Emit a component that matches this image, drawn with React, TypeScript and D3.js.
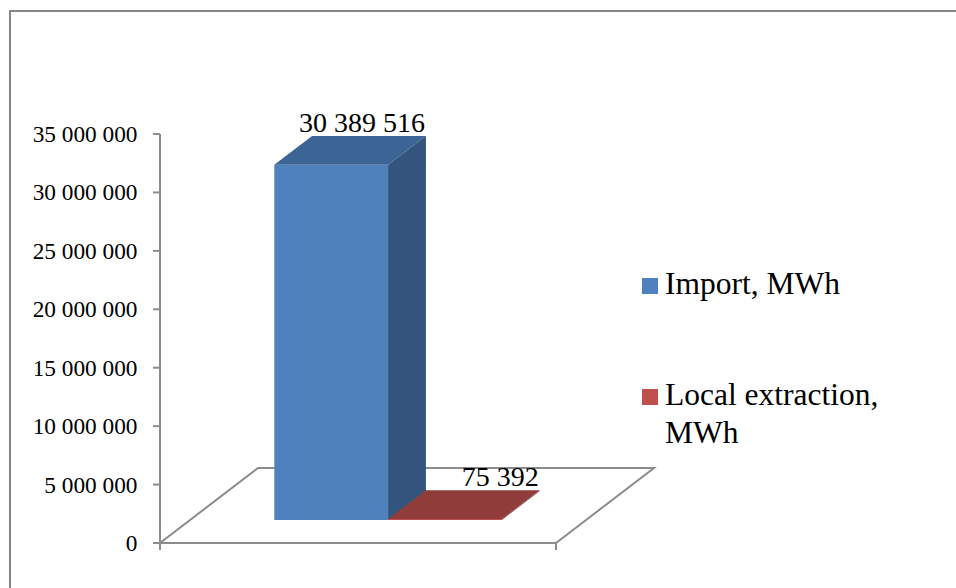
import React from "react";
import * as d3 from "d3";

const seriesNames = ["Import, MWh", "Local extraction, MWh"];
const seriesValues = [30389516, 75392];
const yTickValues = [0, 5000000, 10000000, 15000000, 20000000, 25000000, 30000000, 35000000];
const legendLines = [["Import, MWh"], ["Local extraction,", "MWh"]];

const frontColors = ["#4F81BD", "#C0504D"];
const topColors = ["#3C6494", "#903C3B"];
const sideColors = ["#32547D", "#7A2F2E"];
const legendColors = ["#4F81BD", "#C0504D"];

const fmt = (v: number) => d3.format(",")(v).replace(/,/g, " ");

export default function App() {
  const W = 956;
  const H = 588;
  const x0 = 160;
  const x1 = 556;
  const yScale = d3.scaleLinear().domain([0, 35000000]).range([543, 134]);
  const depth = { dx: 98, dy: -75 };
  const f0 = 0.307;
  const f1 = 0.693;
  const xBand = d3
    .scaleBand<string>()
    .domain(seriesNames)
    .range([x0, x1])
    .paddingInner(0)
    .paddingOuter(0.74);
  const bw = xBand.bandwidth();
  const axisColor = "#8C8C8C";
  const font = "'Liberation Serif', 'Times New Roman', serif";

  const floor = [
    [x0, yScale(0)],
    [x1, yScale(0)],
    [x1 + depth.dx, yScale(0) + depth.dy],
    [x0 + depth.dx, yScale(0) + depth.dy],
  ];
  const pts = (p: number[][]) => p.map((q) => q.join(",")).join(" ");

  const bdx = (f1 - f0) * depth.dx;
  const bdy = (f1 - f0) * depth.dy;

  return (
    <svg
      width={W}
      height={H}
      style={{ position: "absolute", left: 0, top: 0, background: "#fff" }}
    >
      <rect x={0} y={0} width={W} height={H} fill="#fff" />
      <rect x={10} y={11} width={1000} height={1000} fill="none" stroke="#868686" strokeWidth={2} />

      {/* floor */}
      <polygon points={pts(floor)} fill="#fff" stroke={axisColor} strokeWidth={2} />
      {/* y axis */}
      <line x1={x0} x2={x0} y1={yScale(35000000)} y2={yScale(0) + 7} stroke={axisColor} strokeWidth={2} />
      <line x1={x1} x2={x1} y1={yScale(0)} y2={yScale(0) + 7} stroke={axisColor} strokeWidth={2} />
      {yTickValues.map((t) => (
        <g key={t}>
          <line x1={x0 - 7} x2={x0} y1={yScale(t)} y2={yScale(t)} stroke={axisColor} strokeWidth={2} />
          <text
            x={137.5}
            y={yScale(t) + 8}
            textAnchor="end"
            fontFamily={font}
            fontSize={23.3}
            fill="#000"
          >
            {fmt(t)}
          </text>
        </g>
      ))}

      {/* bars */}
      {seriesNames.map((s, i) => {
        const v = seriesValues[i];
        const fx = (xBand(s) as number) + f0 * depth.dx;
        const fy0 = yScale(0) + f0 * depth.dy;
        const fyT = yScale(v) + f0 * depth.dy;
        const front = [
          [fx, fyT],
          [fx + bw, fyT],
          [fx + bw, fy0],
          [fx, fy0],
        ];
        const top = [
          [fx, fyT],
          [fx + bw, fyT],
          [fx + bw + bdx, fyT + bdy],
          [fx + bdx, fyT + bdy],
        ];
        const side = [
          [fx + bw, fyT],
          [fx + bw + bdx, fyT + bdy],
          [fx + bw + bdx, fy0 + bdy],
          [fx + bw, fy0],
        ];
        return (
          <g key={s}>
            <polygon points={pts(front)} fill={frontColors[i]} />
            <polygon points={pts(side)} fill={sideColors[i]} />
            <polygon points={pts(top)} fill={topColors[i]} />
            <text
              x={fx + bw + bdx - 1}
              y={fyT + bdy - 4}
              textAnchor="end"
              fontFamily={font}
              fontSize={28}
              fill="#000"
            >
              {fmt(v)}
            </text>
          </g>
        );
      })}

      {/* legend */}
      {legendLines.map((lines, i) => {
        const baseY = i === 0 ? 294 : 405;
        return (
          <g key={i}>
            <rect x={642} y={baseY - 16} width={16} height={16} fill={legendColors[i]} />
            {lines.map((ln, j) => (
              <text
                key={j}
                x={665}
                y={baseY + j * 37.5}
                fontFamily={font}
                fontSize={31.5}
                fill="#000"
              >
                {ln}
              </text>
            ))}
          </g>
        );
      })}
    </svg>
  );
}
